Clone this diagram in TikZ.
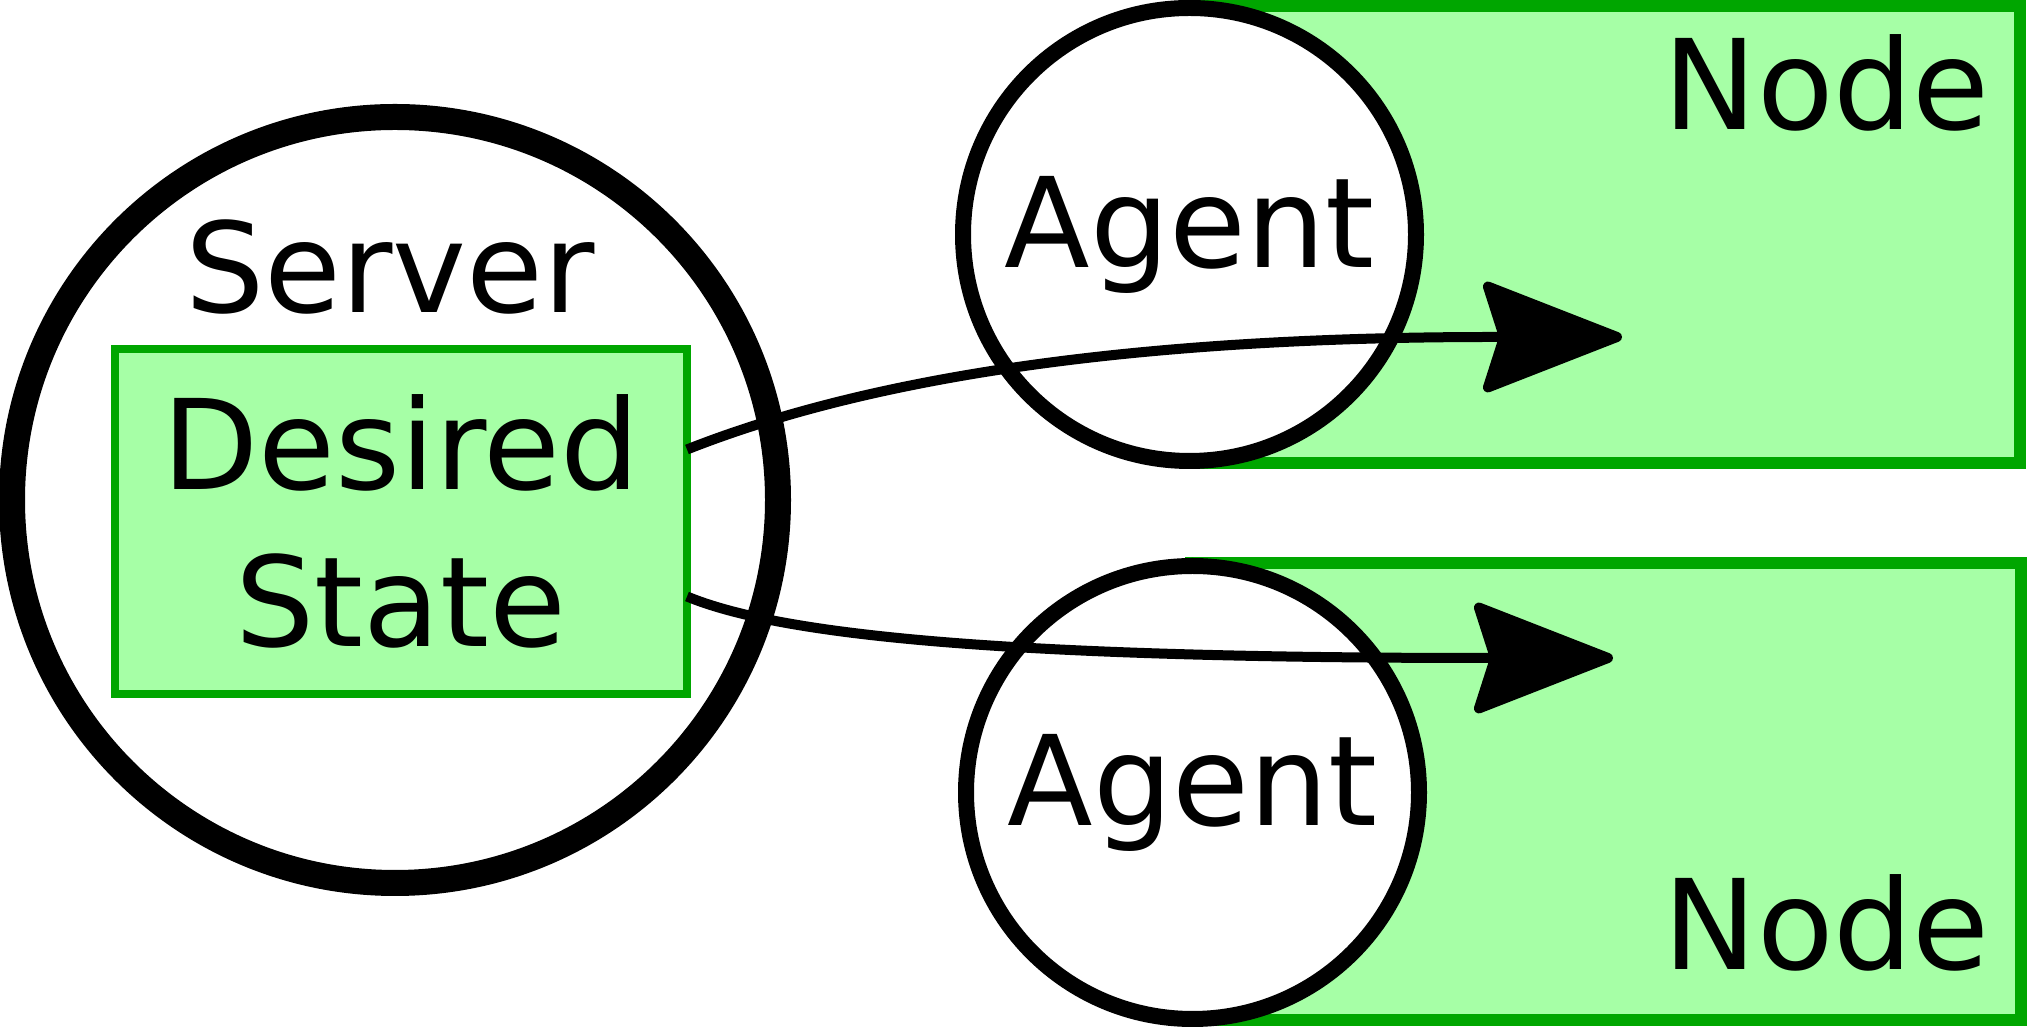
\documentclass[tikz,border=0pt]{standalone}
\usepackage{fontspec}
\setmainfont{DejaVu Sans}
\usetikzlibrary{arrows.meta}
\definecolor{nodegreen}{RGB}{0,166,0}
\definecolor{nodefill}{RGB}{166,255,166}
\tikzset{
    node-box/.style = {draw=nodegreen, fill=nodefill, line width=12pt, rectangle, minimum width=830pt, minimum height=457pt, inner sep=0pt},
    agent-circle/.style = {draw, fill=white, line width=16pt, circle, minimum size=453pt, inner sep=0pt},
    big-label/.style = {font=\fontsize{125}{157}\selectfont, inner sep=0pt},
    push-arrow/.style = {line width=10pt, -{Stealth[length=150pt, width=116pt, inset=18pt, round]}},
}

\begin{document}
\begin{tikzpicture}[x=1pt, y=1pt]
\useasboundingbox (0,0) rectangle (2029,1027);
% the two nodes with their agents
\node [node-box] (top-node) at (1605,792.5) {};
\node [node-box] (bottom-node) at (1606,235) {};
\node [big-label, anchor=base east] at (1990,897) {Node};
\node [big-label, anchor=base east] at (1990,57) {Node};
\node [agent-circle, big-label] (top-agent) at (1189.5,792.5) {Agent};
\node [agent-circle, big-label] (bottom-agent) at (1192.5,234.5) {Agent};
% server holding the desired state
\node [draw, fill=white, circle, line width=26pt, minimum size=766pt, inner sep=0pt] (server) at (395,527) {};
\node [big-label, anchor=base] at (390,714) {Server};
\node [draw=nodegreen, fill=nodefill, line width=8pt, outer sep=0pt, minimum width=572pt, minimum height=345pt, big-label, align=center] (state) at (401,505.5) {Desired\\State};
% pushed to the agents
\coordinate (top-tip) at (1622,690);
\coordinate (bottom-tip) at (1613,369);
\draw [push-arrow] ([yshift=72pt]state.east) .. controls (850,642) and (1100,690) .. (1493,690) -- (top-tip);
\draw [push-arrow] ([yshift=-75pt]state.east) .. controls (780,392) and (1000,369) .. (1485,369) -- (bottom-tip);
\end{tikzpicture}
\end{document}
